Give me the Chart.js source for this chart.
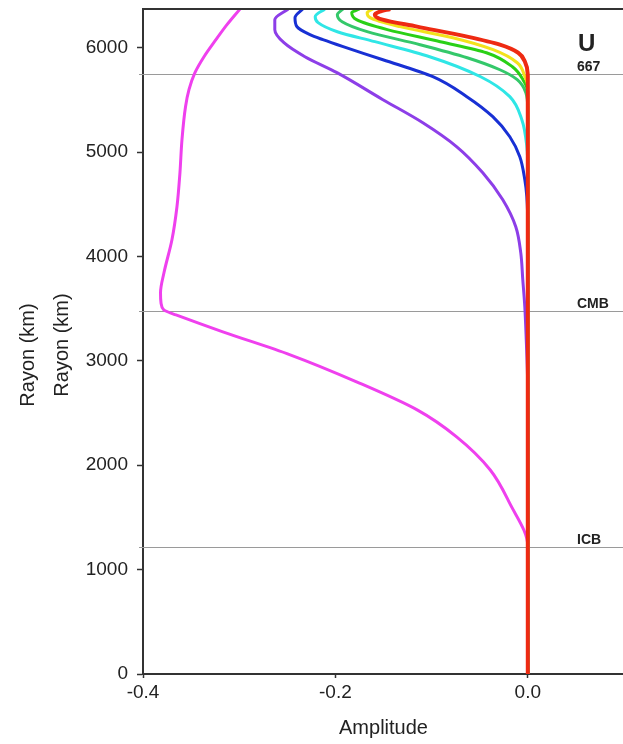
<!DOCTYPE html>
<html>
<head>
<meta charset="utf-8">
<script src="https://cdn.jsdelivr.net/npm/chart.js@4/dist/chart.umd.min.js"></script>
<style>
  html, body { margin: 0; padding: 0; background: #fff; overflow: hidden; }
  #wrap { width: 623px; height: 744px; overflow: hidden; position: relative; }
  canvas { position: absolute; left: 0; top: 0; }
</style>
</head>
<body>
<div id="wrap"><canvas id="c" width="640" height="744"></canvas></div>
<script>
// Radial amplitude profiles (radius in km, amplitude) for each mode
const magentaR   = [6371, 6221, 6077, 5914, 5761, 5598, 5435, 5118, 4802, 4476, 4160, 3844, 3652, 3556, 3489, 3480, 3440, 3278, 3058, 2799, 2530, 2272, 1955, 1639, 1221, 600, 0];
const magentaAmp = [-0.2992, -0.3127, -0.3242, -0.3366, -0.3460, -0.3522, -0.3558, -0.3595, -0.3616, -0.3647, -0.3699, -0.3782, -0.3818, -0.3813, -0.3785, -0.3770, -0.3657, -0.317, -0.247, -0.178, -0.115, -0.074, -0.039, -0.019, 0.000, 0, 0];

const purpleR   = [6371, 6269, 6173, 6048, 5914, 5761, 5502, 5281, 5051, 4802, 4543, 4285, 4035, 3776, 3518, 3201, 2818, 2435, 0];
const purpleAmp = [-0.249, -0.263, -0.263, -0.2535, -0.2317, -0.1984, -0.1506, -0.1091, -0.0738, -0.0468, -0.0260, -0.0125, -0.0073, -0.0052, -0.0031, -0.0016, -0.0002, 0, 0];

const blueR   = [6371, 6288, 6202, 6125, 6077, 6010, 5885, 5722, 5531, 5339, 5147, 4955, 4735, 4572, 4256, 0];
const blueAmp = [-0.234, -0.242, -0.240, -0.2265, -0.213, -0.192, -0.1506, -0.0987, -0.0634, -0.0364, -0.0187, -0.0083, -0.0031, -0.0010, 0, 0];

const cyanR   = [6371, 6297, 6240, 6153, 6058, 5914, 5722, 5531, 5310, 5051, 4831, 0];
const cyanAmp = [-0.211, -0.221, -0.218, -0.198, -0.159, -0.102, -0.049, -0.0187, -0.0062, -0.0010, 0, 0];

const seaGreenR   = [6371, 6317, 6249, 6154, 6029, 5904, 5789, 5694, 5569, 5406, 0];
const seaGreenAmp = [-0.192, -0.198, -0.193, -0.167, -0.112, -0.063, -0.029, -0.011, -0.002, 0, 0];

const greenR   = [6371, 6336, 6269, 6173, 6058, 5952, 5818, 5694, 5578, 0];
const greenAmp = [-0.175, -0.183, -0.178, -0.146, -0.091, -0.043, -0.016, -0.005, 0, 0];

const yellowR   = [6371, 6336, 6288, 6202, 6096, 5981, 5856, 5722, 5626, 0];
const yellowAmp = [-0.161, -0.167, -0.164, -0.133, -0.078, -0.036, -0.011, -0.003, 0, 0];

const redR   = [6371, 6345, 6317, 6269, 6202, 6106, 6029, 5952, 5866, 5741, 0];
const redAmp = [-0.143, -0.154, -0.159, -0.151, -0.115, -0.063, -0.029, -0.010, -0.003, 0, 0];

// Axis ticks
const xTicks = [-0.4, -0.2, 0.0];
const yTicks = [0, 1000, 2000, 3000, 4000, 5000, 6000];

// Internal boundaries and their labels
const boundaryRadii  = [5750, 3480, 1221];
const boundaryLabels = ['667', 'CMB', 'ICB'];
const panelLabel = 'U';

const FONT = '"Liberation Sans", Arial, Helvetica, sans-serif';

const curves = [
  { r: magentaR,  a: magentaAmp,  color: '#ef40ee', w: 3 },
  { r: purpleR,   a: purpleAmp,   color: '#8d3ee8', w: 3 },
  { r: blueR,     a: blueAmp,     color: '#1830d4', w: 3 },
  { r: cyanR,     a: cyanAmp,     color: '#2fe6e6', w: 3 },
  { r: seaGreenR, a: seaGreenAmp, color: '#34c86a', w: 3 },
  { r: greenR,    a: greenAmp,    color: '#2ad016', w: 3 },
  { r: yellowR,   a: yellowAmp,   color: '#f3e21c', w: 3 },
  { r: redR,      a: redAmp,      color: '#ee2a12', w: 4 }
];

// Radius is the index axis, so curves are smoothed as amplitude(radius)
const datasets = curves.map((c, i) => ({
  data: c.r.map((r, k) => ({ x: c.a[k], y: r })),
  borderColor: c.color,
  borderWidth: c.w,
  pointRadius: 0,
  cubicInterpolationMode: 'monotone',
  fill: false,
  order: curves.length - 1 - i
}));

const decor = {
  id: 'decor',
  beforeDatasetsDraw(chart) {
    const ctx = chart.ctx, ca = chart.chartArea, ys = chart.scales.y;
    ctx.save();
    ctx.strokeStyle = '#9a9a9a';
    ctx.lineWidth = 1;
    boundaryRadii.forEach(r => {
      const py = Math.round(ys.getPixelForValue(r)) + 0.5;
      ctx.beginPath();
      ctx.moveTo(ca.left - 4, py);
      ctx.lineTo(ca.right, py);
      ctx.stroke();
    });
    ctx.restore();
  },
  afterDraw(chart) {
    const ctx = chart.ctx, ca = chart.chartArea, ys = chart.scales.y;
    ctx.save();
    // top frame line
    ctx.strokeStyle = '#333';
    ctx.lineWidth = 2;
    ctx.beginPath();
    ctx.moveTo(ca.left - 1, ca.top);
    ctx.lineTo(ca.right, ca.top);
    ctx.stroke();

    // boundary labels
    ctx.fillStyle = '#222';
    ctx.textAlign = 'left';
    ctx.textBaseline = 'alphabetic';
    boundaryLabels.forEach((t, i) => {
      const py = ys.getPixelForValue(boundaryRadii[i]);
      ctx.font = 'bold 14px ' + FONT;
      ctx.fillText(t, 577, py - 3);
    });
    ctx.font = 'bold 24px ' + FONT;
    ctx.fillText(panelLabel, 578, 51);

    // axis titles
    ctx.font = '20px ' + FONT;
    ctx.textAlign = 'center';
    ctx.textBaseline = 'middle';
    ctx.fillText('Amplitude', (ca.left + ca.right) / 2, 728);
    [[28, 355], [62, 345]].forEach(([x, y]) => {
      ctx.save();
      ctx.translate(x, y);
      ctx.rotate(-Math.PI / 2);
      ctx.fillText('Rayon (km)', 0, 0);
      ctx.restore();
    });
    ctx.restore();
  }
};

new Chart(document.getElementById('c'), {
  type: 'line',
  data: { datasets },
  options: {
    indexAxis: 'y',
    responsive: false,
    animation: false,
    events: [],
    layout: { padding: { left: 0, top: 9, right: 16, bottom: 0 } },
    plugins: { legend: { display: false }, tooltip: { enabled: false } },
    scales: {
      x: {
        type: 'linear',
        position: 'bottom',
        min: -0.4,
        max: 0.1,
        afterFit(s) { s.height = 70; s.paddingLeft = 0; s.paddingRight = 0; },
        afterBuildTicks(s) { s.ticks = xTicks.map(v => ({ value: v })); },
        ticks: {
          color: '#222',
          font: { family: FONT, size: 19 },
          padding: 3,
          maxRotation: 0,
          callback: v => v.toFixed(1)
        },
        grid: { drawOnChartArea: false, drawTicks: true, tickLength: 4, color: '#333', tickWidth: 1.5 },
        border: { display: true, color: '#333', width: 2 }
      },
      y: {
        type: 'linear',
        position: 'left',
        min: 0,
        max: 6371,
        afterFit(s) { s.width = 143; s.paddingTop = 0; s.paddingBottom = 0; },
        afterBuildTicks(s) { s.ticks = yTicks.map(v => ({ value: v })); },
        ticks: {
          color: '#222',
          font: { family: FONT, size: 19 },
          padding: 9,
          callback: v => String(v)
        },
        grid: { drawOnChartArea: false, drawTicks: true, tickLength: 6, color: '#333', tickWidth: 1.5 },
        border: { display: true, color: '#333', width: 2 }
      }
    }
  },
  plugins: [decor]
});
</script>
</body>
</html>
